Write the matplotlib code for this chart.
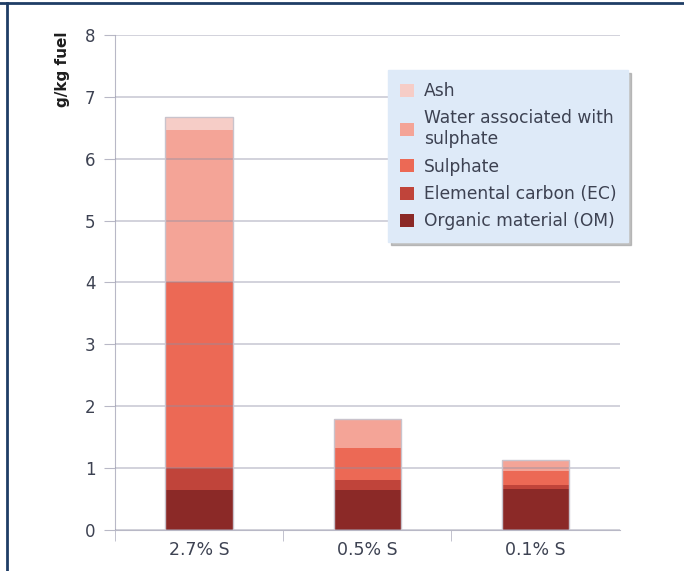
import matplotlib.pyplot as plt
from matplotlib.patches import Rectangle
from matplotlib.lines import Line2D

# data
categories = ['2.7% S', '0.5% S', '0.1% S']
organic = [0.65, 0.65, 0.66]
elemental = [0.35, 0.16, 0.07]
sulphate = [3.0, 0.51, 0.23]
water = [2.46, 0.45, 0.15]
ash = [0.21, 0.02, 0.02]

labels = ['Organic material (OM)', 'Elemental carbon (EC)', 'Sulphate',
          'Water associated with\nsulphate', 'Ash']
colors = ['#8b2927', '#c0443a', '#ec6955', '#f4a497', '#f6cdc7']
series = [organic, elemental, sulphate, water, ash]

text_col = '#3d4252'
plt.rcParams['font.family'] = ['DejaVu Sans']

fig = plt.figure(figsize=(6.84, 5.71), dpi=100)
ax = fig.add_axes([0.168, 0.0718, 0.738, 0.867])

x = range(len(categories))
bottom = [0.0] * len(categories)
handles = []
for vals, lab, col in zip(series, labels, colors):
    bars = ax.bar(x, vals, width=0.4, bottom=bottom, color=col,
                  edgecolor='none', label=lab, zorder=1)
    handles.append(bars)
    bottom = [b + v for b, v in zip(bottom, vals)]

# thin outline around each stacked bar
for i, tot in enumerate(bottom):
    ax.add_patch(Rectangle((i - 0.2, 0), 0.4, tot, fill=False,
                           edgecolor='#c9c3cc', lw=1.0, zorder=3))

ax.set_xlim(-0.5, 2.5)
ax.set_ylim(0, 8)
ax.set_yticks(range(0, 9))
ax.set_xticks(x)
ax.set_xticklabels(categories)
ax.set_xticks([-0.5, 0.5, 1.5], minor=True)

ax.grid(axis='y', color='#8e8ea4', lw=1.1, alpha=0.5, zorder=2)
ax.set_axisbelow(False)
for s in ['top', 'right']:
    ax.spines[s].set_visible(False)
ax.spines['left'].set_color('#b8b8c6')
ax.spines['bottom'].set_color('#b8b8c6')
ax.tick_params(axis='y', colors='#b8b8c6', labelcolor=text_col,
               labelsize=12, length=8, pad=6)
ax.tick_params(axis='x', which='major', length=0, labelcolor=text_col,
               labelsize=12.5, pad=8)
ax.tick_params(axis='x', which='minor', length=8, color='#b8b8c6')

fig.text(0.091, 0.945, 'g/kg fuel', rotation=90, ha='center', va='top',
         fontsize=11, fontweight='bold', color='#1e1e1e')

# legend box with shadow, top item first
leg = ax.legend(handles[::-1], labels[::-1], loc='upper left',
                bbox_to_anchor=(0.541, 0.929), borderaxespad=0,
                fontsize=12.3, frameon=True,
                facecolor='#deeaf8', edgecolor='#deeaf8', framealpha=1,
                fancybox=False, shadow={'color': '#999999', 'alpha': 0.6},
                handlelength=0.8, handleheight=0.8, handletextpad=0.6,
                labelspacing=0.55, borderpad=0.7, labelcolor=text_col)

# outer frame lines (top and left)
fig.add_artist(Line2D([0.0, 1.0], [0.994, 0.994], transform=fig.transFigure,
                      color='#1f3d66', lw=2))
fig.add_artist(Line2D([0.01, 0.01], [0.0, 0.994], transform=fig.transFigure,
                      color='#1f3d66', lw=2))

fig.savefig('out.png', dpi=100)
